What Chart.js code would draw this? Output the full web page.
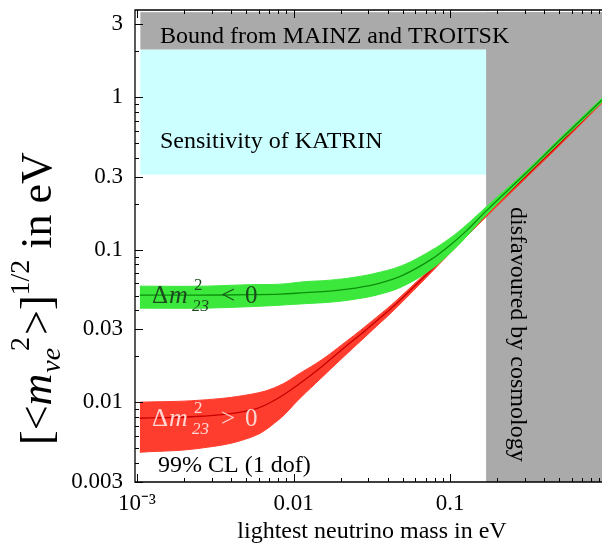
<!DOCTYPE html>
<html><head><meta charset="utf-8">
<script src="https://cdn.jsdelivr.net/npm/chart.js@4/dist/chart.umd.min.js"></script>
<style>html,body{margin:0;padding:0;background:#fff;overflow:hidden}canvas{display:block}</style>
</head><body><canvas id="c" width="602" height="549"></canvas>
<script>
// ---- data ----
const xTickValues = [0.001, 0.01, 0.1];
const xTickLabels = ['10\u207B\u00B3', '0.01', '0.1'];
const yTickValues = [0.003, 0.01, 0.03, 0.1, 0.3, 1, 3];
const yTickLabels = ['0.003', '0.01', '0.03', '0.1', '0.3', '1', '3'];

// inverted hierarchy (Δm²23 < 0)
const greenX   = [0.00104, 0.002527, 0.005272, 0.0082, 0.011846, 0.01711, 0.02472, 0.0357, 0.05008, 0.07453, 0.1, 0.1247, 0.1723, 0.3015, 0.5046, 0.9359];
const greenMid = [0.0503, 0.0503, 0.05068, 0.05107, 0.05223, 0.05344, 0.05592, 0.06032, 0.06803, 0.08533, 0.10703, 0.1302, 0.18154, 0.31276, 0.52247, 0.9557];
const greenHi  = [0.05763, 0.05763, 0.05895, 0.0594, 0.06168, 0.0631, 0.06602, 0.07118, 0.07911, 0.09776, 0.11897, 0.14258, 0.1928, 0.32234, 0.5384, 0.98501];
const greenLo  = [0.04134, 0.04134, 0.04229, 0.04326, 0.04425, 0.04526, 0.04736, 0.05107, 0.05763, 0.07337, 0.09486, 0.11897, 0.1709, 0.30339, 0.50699, 0.92726];

// normal hierarchy (Δm²23 > 0)
const redX   = [0.00104, 0.002527, 0.005351, 0.007962, 0.011, 0.01499, 0.01982, 0.02992, 0.04792, 0.1, 0.1723, 0.3015, 0.5046, 0.9359];
const redMid = [0.007853, 0.008094, 0.008863, 0.01062, 0.01332, 0.016966, 0.021603, 0.03056, 0.046653, 0.09776, 0.17354, 0.29881, 0.49929, 0.94141];
const redHi  = [0.0100, 0.01031, 0.01128, 0.01273, 0.01549, 0.01886, 0.0233, 0.03247, 0.04883, 0.10076, 0.18154, 0.30339, 0.50699, 0.9557];
const redLo  = [0.0047, 0.004994, 0.005896, 0.007619, 0.01062, 0.014368, 0.01886, 0.027921, 0.043926, 0.094856, 0.16585, 0.29002, 0.48443, 0.91317];

// bounds (eV)
const regionStart = 0.00105;
const cosmologyBound = 0.17;
const katrinSensitivity = 0.31;
const mainzTroitskBound = 2.05;
const regionTop = 3.6;

const xMin = 0.00097, xMax = 0.936, yMin = 0.003, yMax = 3.72;

// ---- helpers ----
const pts = (xs, ys) => xs.map((x, i) => ({x, y: ys[i]}));
const SERIF = '"Liberation Serif", "Times New Roman", serif';
const GREEN = '#3de83d', GREEN_LINE = '#0b8f0b', RED = '#ff3d2e', RED_LINE = '#c80000';
const GRAY = '#aaaaaa', CYAN = '#ccffff';

const decor = {
  id: 'decor',
  beforeDatasetsDraw(chart) {
    const {ctx, chartArea: a, scales: {x, y}} = chart;
    ctx.save();
    ctx.beginPath(); ctx.rect(a.left, a.top, a.right - a.left, a.bottom - a.top); ctx.clip();
    const rect = (x0, x1, y0, y1, c) => {
      const X0 = x.getPixelForValue(x0), X1 = x.getPixelForValue(x1);
      const Y0 = y.getPixelForValue(y0), Y1 = y.getPixelForValue(y1);
      ctx.fillStyle = c;
      ctx.fillRect(Math.min(X0, X1), Math.min(Y0, Y1), Math.abs(X1 - X0), Math.abs(Y1 - Y0));
    };
    rect(regionStart, cosmologyBound, katrinSensitivity, mainzTroitskBound, CYAN);
    rect(regionStart, xMax * 2, mainzTroitskBound, regionTop, GRAY);
    rect(cosmologyBound, xMax * 2, yMin / 2, regionTop, GRAY);
    ctx.restore();
  },
  afterDatasetsDraw(chart) {
    const {ctx} = chart;
    ctx.save();
    ctx.fillStyle = '#000';
    ctx.textBaseline = 'alphabetic';
    ctx.font = '24px ' + SERIF;
    ctx.fillText('Bound from MAINZ and TROITSK', 160, 43);
    ctx.fillText('Sensitivity of KATRIN', 160, 148);
    ctx.fillText('99% CL (1 dof)', 158, 472);
    // rotated cosmology text
    ctx.save();
    ctx.translate(511, 207);
    ctx.rotate(Math.PI / 2);
    ctx.fillText('disfavoured by cosmology', 0, 0);
    ctx.restore();
    // Δm² labels
    const dm = (x0, yb, rel, col) => {
      ctx.fillStyle = col;
      ctx.font = '25px ' + SERIF; ctx.fillText('\u0394', x0, yb);
      ctx.font = 'italic 26px ' + SERIF; ctx.fillText('m', x0 + 17, yb);
      ctx.font = '17px ' + SERIF; ctx.fillText('2', x0 + 42, yb - 13);
      ctx.font = 'italic 17px ' + SERIF; ctx.fillText('23', x0 + 40, yb + 8);
      ctx.font = '25px ' + SERIF;
      ctx.fillText(rel, x0 + 69, yb);
      ctx.fillText('0', x0 + 93, yb);
    };
    dm(152, 303, '<', '#1d4a1d');
    dm(152, 426, '>', '#ffd6d2');
    ctx.restore();
  },
  afterDraw(chart) {
    const {ctx, chartArea: a, scales: {x, y}} = chart;
    ctx.save();
    ctx.strokeStyle = '#000'; ctx.lineWidth = 1.3;
    ctx.beginPath();
    ctx.moveTo(a.right + 2, a.top); ctx.lineTo(a.left, a.top); ctx.lineTo(a.left, a.bottom); ctx.lineTo(a.right + 2, a.bottom);
    ctx.stroke();
    ctx.lineWidth = 1;
    const seg = (x0, y0, x1, y1) => { ctx.beginPath(); ctx.moveTo(x0, y0); ctx.lineTo(x1, y1); ctx.stroke(); };
    const isMajor = (arr, v) => arr.some(t => Math.abs(t - v) / t < 1e-6);
    for (let e = -4; e <= 1; e++) for (let k = 1; k < 10; k++) {
      const v = k * Math.pow(10, e);
      if (v >= x.min && v <= x.max) {
        const px = Math.round(x.getPixelForValue(v)) + 0.5;
        const L = k === 1 ? 8 : 4;
        seg(px, a.bottom, px, a.bottom - L);
        seg(px, a.top, px, a.top + L);
      }
      if (v >= y.min && v <= y.max) {
        const py = Math.round(y.getPixelForValue(v)) + 0.5;
        const L = isMajor(yTickValues, v) ? 8 : 4;
        seg(a.left, py, a.left + L, py);
      }
    }
    // x title
    ctx.fillStyle = '#000';
    ctx.font = '24px ' + SERIF;
    ctx.textAlign = 'center';
    ctx.textBaseline = 'alphabetic';
    ctx.fillText('lightest neutrino mass in eV', 372, 538);
    // y title
    ctx.textAlign = 'left';
    ctx.translate(51, 445);
    ctx.rotate(-Math.PI / 2);
    let xx = 0;
    const put = (t, f, dy) => { ctx.font = f; ctx.fillText(t, xx, dy); xx += ctx.measureText(t).width; };
    const big = '44px ' + SERIF, bigI = 'italic 44px ' + SERIF, sm = '28px ' + SERIF, smI = 'italic 28px ' + SERIF;
    put('[<', big, 0);
    put('m', bigI, 0);
    xx += 1;
    put('\u03BDe', smI, 9);
    xx -= 3;
    put('2', sm, -22);
    xx += 2;
    put('>]', big, 0);
    put('1/2', sm, -22);
    put(' in eV', big, 0);
    ctx.restore();
  }
};

new Chart(document.getElementById('c'), {
  type: 'line',
  data: {
    datasets: [
      {data: pts(greenX, greenHi), borderColor: GREEN, borderWidth: 1, backgroundColor: GREEN, fill: false, order: 1},
      {data: pts(greenX, greenLo), borderColor: GREEN, borderWidth: 1, backgroundColor: GREEN, fill: 0, order: 1},
      {data: pts(greenX, greenMid), borderColor: GREEN_LINE, borderWidth: 1.3, fill: false, order: 0},
      {data: pts(redX, redHi), borderColor: RED, borderWidth: 1, backgroundColor: RED, fill: false, order: 3},
      {data: pts(redX, redLo), borderColor: RED, borderWidth: 1, backgroundColor: RED, fill: 3, order: 3},
      {data: pts(redX, redMid), borderColor: RED_LINE, borderWidth: 1.3, fill: false, order: 2}
    ]
  },
  options: {
    responsive: false,
    animation: false,
    events: [],
    layout: {padding: {top: 10, right: 0, left: 0, bottom: 0}},
    elements: {point: {radius: 0}, line: {tension: 0.4}},
    plugins: {legend: {display: false}, tooltip: {enabled: false}},
    scales: {
      x: {
        type: 'logarithmic', min: xMin, max: xMax,
        grid: {display: false, drawTicks: false}, border: {display: false},
        afterBuildTicks: s => { s.ticks = xTickValues.map(v => ({value: v})); },
        afterFit: s => { s.height = 67; s.paddingLeft = 0; s.paddingRight = 0; },
        ticks: {
          autoSkip: false, maxRotation: 0, padding: 8, color: '#000',
          font: {family: SERIF, size: 23},
          callback: (v) => { const i = xTickValues.findIndex(t => Math.abs(t - v) / t < 1e-6); return i >= 0 ? xTickLabels[i] : ''; }
        }
      },
      y: {
        type: 'logarithmic', min: yMin, max: yMax,
        grid: {display: false, drawTicks: false}, border: {display: false},
        afterBuildTicks: s => { s.ticks = yTickValues.map(v => ({value: v})); },
        afterFit: s => { s.width = 135; s.paddingTop = 0; s.paddingBottom = 0; },
        ticks: {
          autoSkip: false, padding: 12, color: '#000',
          font: {family: SERIF, size: 23},
          callback: (v) => { const i = yTickValues.findIndex(t => Math.abs(t - v) / t < 1e-6); return i >= 0 ? yTickLabels[i] : ''; }
        }
      }
    }
  },
  plugins: [decor]
});
</script>
</body></html>
